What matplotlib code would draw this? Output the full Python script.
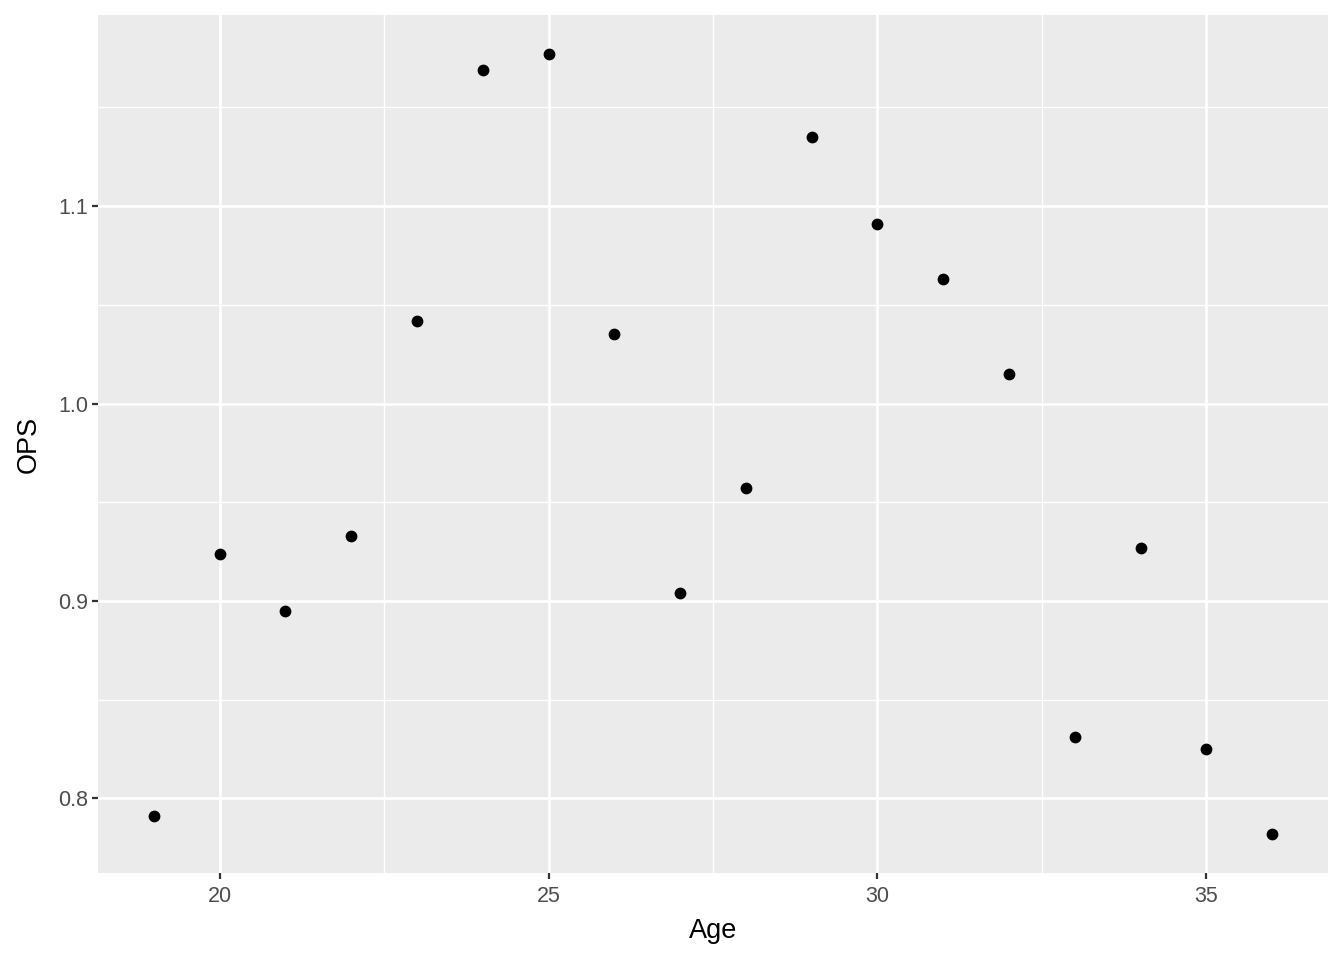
import matplotlib
matplotlib.use("Agg")
import matplotlib.pyplot as plt
from matplotlib.ticker import MultipleLocator

age = [19, 20, 21, 22, 23, 24, 25, 26, 27, 28, 29, 30, 31, 32, 33, 34, 35, 36]
ops = [0.791, 0.924, 0.895, 0.933, 1.042, 1.169, 1.177, 1.035, 0.904, 0.957,
       1.135, 1.091, 1.063, 1.015, 0.831, 0.927, 0.825, 0.782]
x_ticks = [20, 25, 30, 35]
y_ticks = [0.8, 0.9, 1.0, 1.1]
y_tick_labels = ["0.8", "0.9", "1.0", "1.1"]

plt.rcParams['font.family'] = ['Liberation Sans', 'DejaVu Sans']

fig = plt.figure(figsize=(13.44, 9.6), dpi=100)
ax = fig.add_axes([98/1344, 1-873/960, (1328-98)/1344, (873-15)/960])
ax.set_facecolor('#EBEBEB')
for s in ax.spines.values():
    s.set_visible(False)

xmin, xmax = min(age), max(age)
ymin, ymax = min(ops), max(ops)
dx = (xmax - xmin) * 0.05
dy = (ymax - ymin) * 0.05
ax.set_xlim(xmin - dx, xmax + dx)
ax.set_ylim(ymin - dy, ymax + dy)

ax.set_xticks(x_ticks)
ax.set_yticks(y_ticks)
ax.set_yticklabels(y_tick_labels)
ax.xaxis.set_minor_locator(MultipleLocator(2.5))
ax.yaxis.set_minor_locator(MultipleLocator(0.05))
ax.grid(which='major', color='white', linewidth=2.0)
ax.grid(which='minor', color='white', linewidth=1.0)
ax.set_axisbelow(True)
ax.tick_params(which='major', length=4.0, width=1.6, color='#333333',
               labelcolor='#4D4D4D', labelsize=15.5, pad=3)
ax.tick_params(axis='x', which='major', pad=5.5)
ax.tick_params(which='minor', length=0)

ax.scatter(age, ops, s=72, color='black', zorder=3, linewidths=0)

ax.set_xlabel('Age', fontsize=19.5, color='black', labelpad=8)
ax.set_ylabel('OPS', fontsize=19.5, color='black', labelpad=12)

fig.savefig('out.png', dpi=100)
